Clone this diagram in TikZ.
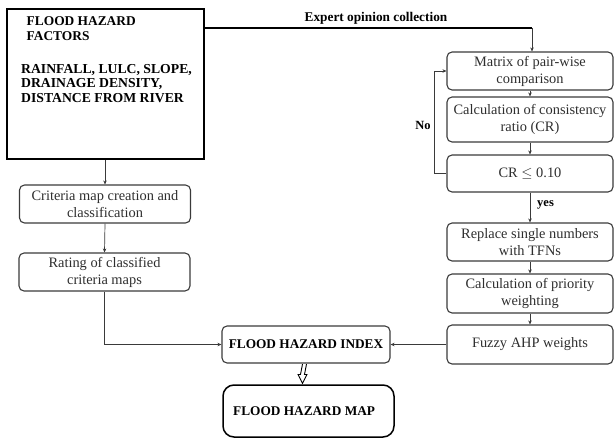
\documentclass[tikz,border=0pt]{standalone}
\usepackage{fontspec}
\setmainfont{Liberation Serif}
\usetikzlibrary{arrows.meta,calc}
\definecolor{boxline}{HTML}{3A3A3A}
\definecolor{boxtext}{HTML}{2E2E2E}
\newcommand{\fsz}[1]{\fontsize{#1}{17}\selectfont}
\tikzset{
  stepbox/.style={draw=boxline, line width=1.1pt, rounded corners=5pt, align=center,
    text=boxtext, font=\fsz{14.4}, inner sep=0pt},
  rbox/.style={stepbox, minimum width=166pt},
  lbox/.style={stepbox, minimum width=171pt},
  conn/.style={draw=boxline, line width=0.7pt, -{Stealth[length=4pt,width=3.5pt]}},
  lbl/.style={font=\bfseries\fontsize{13.3}{15}\selectfont, inner sep=0pt},
  hollow/.style={draw=black, line width=0.9pt, line join=miter}
}
\begin{document}
\begin{tikzpicture}[x=1pt,y=-1pt]
\useasboundingbox (0,0) rectangle (614,439);
% big box
\node[draw=black, line width=1.8pt, minimum width=197pt, minimum height=150pt, inner sep=0pt] (big) at (105.5,84) {};
\node[lbl, anchor=north west, align=left, font=\bfseries\fontsize{13.4}{15}\selectfont] (bigt1) at (26.5,16) {FLOOD HAZARD\\FACTORS};
\node[lbl, anchor=north west, align=left, font=\bfseries\fontsize{13.7}{14.5}\selectfont] (bigt2) at (21,64) {RAINFALL, LULC, SLOPE,\\DRAINAGE DENSITY,\\DISTANCE FROM RIVER};
% left column
\node[lbox, minimum height=38pt] (crit) at (105,204) {Criteria map creation and\\classification};
\node[lbox, minimum height=38pt] (rating) at (104.5,272) {Rating of classified\\criteria maps};
% right column
\node[rbox, minimum height=38pt] (matrix) at (530,71) {Matrix of pair-wise\\comparison};
\node[rbox, minimum height=45pt] (calccr) at (530,119.5) {Calculation of consistency\\ratio (CR)};
\node[rbox, minimum height=37pt] (cr) at (530,173.5) {CR $\leq$ 0.10};
\node[rbox, minimum height=38pt] (replace) at (530,242) {Replace single numbers\\with TFNs};
\node[rbox, minimum height=39pt] (prio) at (530,293.5) {Calculation of priority\\weighting};
\node[rbox, minimum height=39pt] (fuzzy) at (530,344.5) {Fuzzy AHP weights};
% index and map
\node[stepbox, minimum width=168pt, minimum height=37pt, text=black, font=\bfseries\fontsize{13.3}{15}\selectfont] (fhi) at (306,344.5) {FLOOD HAZARD INDEX};
\node[draw=black, line width=1.5pt, rounded corners=11pt, minimum width=171pt, minimum height=52pt, inner sep=0pt] (map) at (308.5,411) {};
\node[lbl, anchor=west] (mapt) at (233,411) {FLOOD HAZARD MAP};
% expert line
\coordinate (ex) at (0,28);
\draw[line width=1.5pt] (big.east |- ex) -- (532,28) coordinate (excorner);
\draw[conn] (excorner) -- (excorner |- matrix.north);
\node[lbl] (exl) at (376,18.5) {Expert opinion collection};
% right chain
\draw[conn] (matrix.south) -- (calccr.north);
\draw[conn] (calccr.south) -- (cr.north);
\draw[conn] (cr.south) -- (replace.north);
\node[lbl, anchor=west, font=\bfseries\fontsize{12.5}{14}\selectfont] (yes) at (537,205) {yes};
\draw[conn] (replace.south) -- (prio.north);
\draw[conn] (prio.south) -- (fuzzy.north);
\draw[conn] (cr.west) -- ++(-12,0) |- (matrix.west);
\node[lbl, font=\bfseries\fontsize{12.5}{14}\selectfont] (no) at (423,125) {No};
% left chain
\draw[conn] (crit.north |- big.south) -- (crit.north);
\draw[conn] (crit.south) -- (rating.north);
\draw[conn] (rating.south) |- (fhi.west);
\draw[conn] (fuzzy.west) -- (fhi.east);
% hollow arrow from index to map
\coordinate (ha) at ($(fhi.south)+(-1.5,0.6)$);
\coordinate (hb) at ($(map.north)+(-6,-0.8)$);
\draw[hollow] ($(ha)+(-2,0)$) -- ($(hb)+(-2,-9)$) -- ($(hb)+(-4.5,-9)$) -- (hb) -- ($(hb)+(4.5,-9)$) -- ($(hb)+(2,-9)$) -- ($(ha)+(2,0)$);
\end{tikzpicture}
\end{document}
